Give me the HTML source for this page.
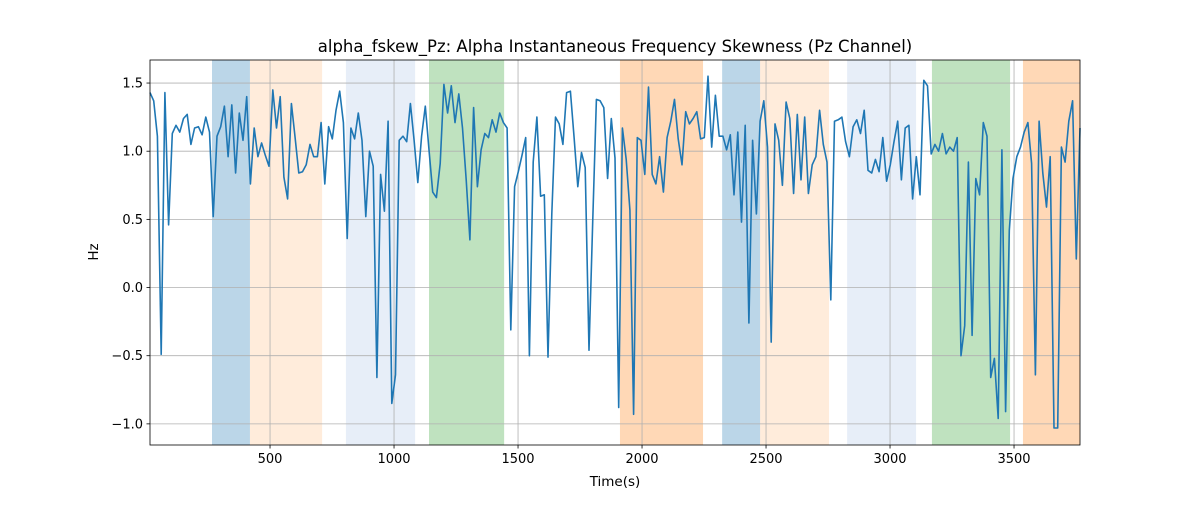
<!DOCTYPE html>
<html><head><meta charset="utf-8"><style>
body{margin:0;background:#fff;}
svg text{font-family:"DejaVu Sans","Liberation Sans",sans-serif;fill:#000;}
</style></head><body>
<svg id="chart" width="1200" height="500" viewBox="0 0 1200 500" xmlns="http://www.w3.org/2000/svg">
<rect width="1200" height="500" fill="#fff"/>
<g id="spans"></g><g id="grid"></g><g id="series"></g><g id="axes"></g>
<text x="615" y="52" text-anchor="middle" font-size="16.5">alpha_fskew_Pz: Alpha Instantaneous Frequency Skewness (Pz Channel)</text>
<text x="615" y="486" text-anchor="middle" font-size="13.5">Time(s)</text>
<text transform="translate(98,252) rotate(-90)" text-anchor="middle" font-size="13.5">Hz</text>
</svg>
<script>
const t0 = 16, dt = 15;
const values = [1.43,1.37,1.11,-0.49,1.43,0.46,1.13,1.19,1.14,1.24,1.27,1.05,1.17,1.18,1.12,1.25,1.14,0.52,1.11,1.18,1.33,0.96,1.34,0.84,1.28,1.08,1.40,0.76,1.17,0.96,1.06,0.97,0.89,1.45,1.17,1.40,0.81,0.65,1.35,1.10,0.84,0.85,0.90,1.05,
0.96,0.96,1.21,0.76,1.18,1.09,1.30,1.44,1.21,0.36,1.17,1.09,1.28,1.08,0.52,1.00,0.89,-0.66,0.83,0.56,1.22,-0.85,-0.64,1.08,1.11,1.07,1.35,1.08,0.77,1.11,1.33,1.01,0.70,0.66,0.91,1.49,1.28,1.48,1.21,1.42,1.17,
0.79,0.35,1.32,0.74,1.01,1.13,1.10,1.23,1.14,1.28,1.21,1.17,-0.31,0.74,0.85,0.97,1.10,-0.50,0.92,1.25,0.67,0.68,-0.51,0.54,1.25,1.20,1.05,1.43,1.44,1.10,0.74,0.99,0.88,-0.46,0.48,1.38,1.37,1.32,0.80,1.24,0.95,-0.88,
1.17,0.94,0.57,-0.93,1.10,1.08,0.83,1.47,0.83,0.76,0.96,0.70,1.10,1.22,1.38,1.09,0.90,1.29,1.20,1.24,1.29,1.09,1.10,1.55,1.03,1.41,1.11,1.11,1.01,1.12,0.68,1.14,0.48,1.19,-0.26,1.08,0.54,1.22,1.37,1.03,-0.40,1.20,
1.08,0.75,1.36,1.24,0.69,1.27,0.79,1.25,0.69,0.90,0.96,1.30,1.05,0.92,-0.09,1.22,1.23,1.25,1.07,0.96,1.18,1.23,1.13,1.30,0.86,0.84,0.94,0.85,1.10,0.78,0.90,1.07,1.22,0.79,1.17,1.19,0.65,0.96,0.68,1.52,1.48,
0.98,1.05,1.00,1.13,0.98,1.03,1.00,1.10,-0.50,-0.28,0.92,-0.35,0.80,0.68,1.21,1.11,-0.66,-0.52,-0.96,1.01,-0.91,0.42,0.80,0.96,1.03,1.14,1.21,0.91,-0.64,1.22,0.84,0.59,0.96,-1.03,-1.03,1.03,0.92,1.22,1.37,0.21,1.17];
const spanStarts = [266,419,806,1141,1911,2323,2476,2827,3169,3536];
const spanEnds   = [419,710,1085,1444,2246,2476,2754,3105,3484,3770];
const spanColors = ['#1f77b4','#ff7f0e','#aec7e8','#2ca02c','#ff7f0e','#1f77b4','#ff7f0e','#aec7e8','#2ca02c','#ff7f0e'];
const spanAlpha  = [0.3,0.15,0.3,0.3,0.3,0.3,0.15,0.3,0.3,0.3];
const xTicks = [500,1000,1500,2000,2500,3000,3500];
const yTicks = [-1.0,-0.5,0.0,0.5,1.0,1.5];

const L=150,R=1080,T=60,B=445, xmin=16, xmax=3766, ymin=-1.155, ymax=1.669;
const X=v=>L+(v-xmin)/(xmax-xmin)*(R-L);
const Y=v=>B-(v-ymin)/(ymax-ymin)*(B-T);
const NS='http://www.w3.org/2000/svg';
function mk(tag,attrs,parent){const e=document.createElementNS(NS,tag);for(const k in attrs)e.setAttribute(k,attrs[k]);parent.appendChild(e);return e;}
const gs=document.getElementById('spans'),gg=document.getElementById('grid'),gser=document.getElementById('series'),ga=document.getElementById('axes');
spanStarts.forEach((s,i)=>{
  const x1=X(s), x2=Math.min(X(spanEnds[i]),R);
  const r=mk('rect',{x:x1,y:T,width:x2-x1,height:B-T,fill:spanColors[i],'fill-opacity':spanAlpha[i]},gs);
  
  
});
xTicks.forEach(v=>{
  const x=X(v);
  const l=mk('line',{x1:x,x2:x,y1:T,y2:B,stroke:'#b0b0b0','stroke-width':0.8},gg);
  
  
  mk('line',{x1:x,x2:x,y1:B,y2:B+3.5,stroke:'#000','stroke-width':0.8},ga);
  const t=mk('text',{x:x,y:B+18,'text-anchor':'middle','font-size':13},ga);
  t.textContent=v;
  
  
});
yTicks.forEach(v=>{
  const y=Y(v);
  const l=mk('line',{x1:L,x2:R,y1:y,y2:y,stroke:'#b0b0b0','stroke-width':0.8},gg);
  
  
  mk('line',{x1:L-3.5,x2:L,y1:y,y2:y,stroke:'#000','stroke-width':0.8},ga);
  const t=mk('text',{x:L-7,y:y+4.5,'text-anchor':'end','font-size':13},ga);
  t.textContent=v.toFixed(1).replace('-','−');
  
  
});
const pts=values.map((v,i)=>X(t0+i*dt).toFixed(1)+','+Y(v).toFixed(1)).join(' ');
const line=mk('polyline',{points:pts,fill:'none',stroke:'#1f77b4','stroke-width':1.6,'stroke-linejoin':'round'},gser);


const fr=mk('rect',{x:L,y:T,width:R-L,height:B-T,fill:'none',stroke:'#000','stroke-width':0.8},ga);


</script>
</body></html>
